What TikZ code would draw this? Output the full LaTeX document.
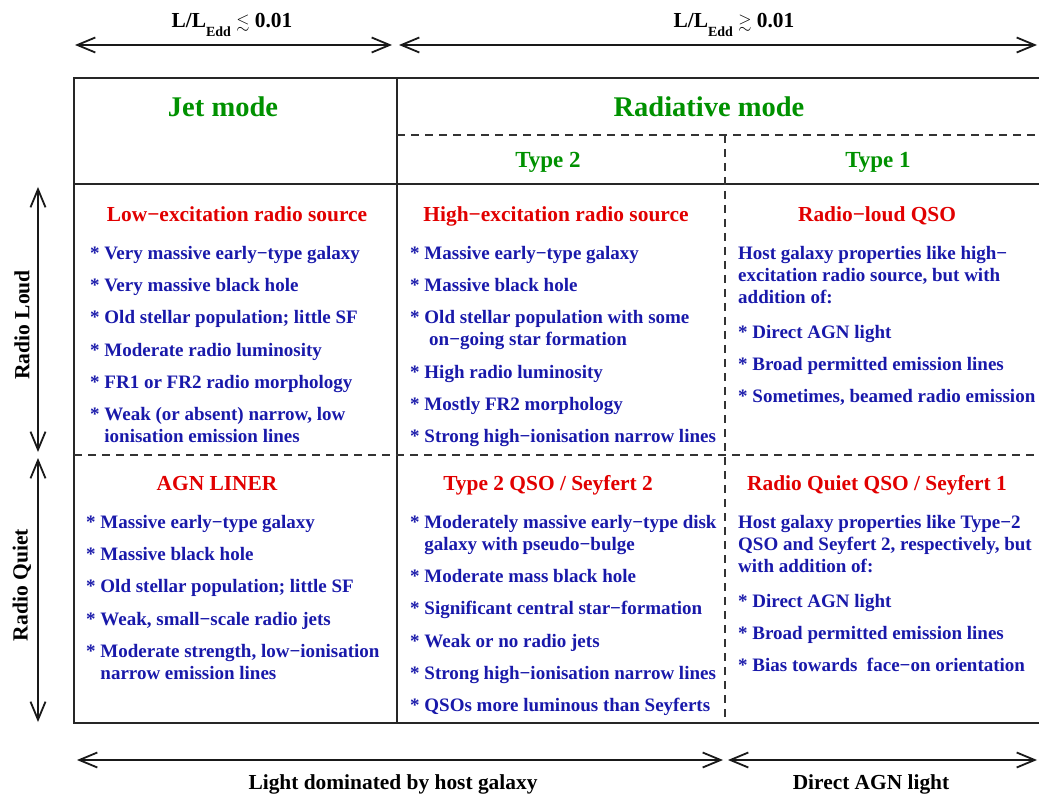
\documentclass[tikz,border=0pt]{standalone}
\usepackage{amssymb}
\usepackage{fontspec}
\setmainfont{Liberation Serif}
\usetikzlibrary{arrows.meta}

\definecolor{modegreen}{RGB}{0,145,0}
\definecolor{classred}{RGB}{225,0,0}
\definecolor{propblue}{RGB}{25,25,170}

\begin{document}
\begin{tikzpicture}[x=1pt, y=-1pt,
    rule/.style={line width=1.7pt, black!85},
    splitrule/.style={line width=1.7pt, black!80, dash pattern=on 8pt off 6pt},
    rangearrow/.style={line width=1.8pt, black!90, {Straight Barb[length=18pt,width=15pt]}-{Straight Barb[length=18pt,width=15pt]}},
    modehead/.style={anchor=base, inner sep=0pt, text=modegreen, font=\fontsize{28.5}{30}\selectfont\bfseries},
    typehead/.style={anchor=base, inner sep=0pt, text=modegreen, font=\fontsize{23}{25}\selectfont\bfseries},
    classhead/.style={anchor=base, inner sep=0pt, text=classred, font=\fontsize{21.4}{24}\selectfont\bfseries},
    proplist/.style={anchor=north west, inner sep=0pt, align=left, text=propblue, font=\fontsize{19}{22}\selectfont\bfseries},
    axislabel/.style={anchor=base, inner sep=0pt, font=\fontsize{21.4}{24}\selectfont\bfseries},
    sidelabel/.style={rotate=90, inner sep=0pt, font=\fontsize{21.6}{24}\selectfont\bfseries}]
    \useasboundingbox (0,0) rectangle (1039,794);

    % Eddington ratio ranges
    \coordinate (lowL) at (75,45);
    \coordinate (lowR) at (392,45);
    \coordinate (highL) at (399,45);
    \coordinate (highR) at (1037,45);
    \draw[rangearrow] (lowL) -- (lowR);
    \draw[rangearrow] (highL) -- (highR);
    \node[axislabel] (lowedd) at (232,28) {L/L\raisebox{-9pt}{\fontsize{14}{14}\selectfont Edd} {\fontsize{17}{20}\selectfont$\lesssim$} 0.01};
    \node[axislabel] (highedd) at (734,28) {L/L\raisebox{-9pt}{\fontsize{14}{14}\selectfont Edd} {\fontsize{17}{20}\selectfont$\gtrsim$} 0.01};

    % table
    \draw[rule] (1045,78) -- (74,78) -- (74,723) -- (1045,723);
    \draw[rule] (74,184) -- (1045,184);
    \draw[rule] (397,78) -- (397,723);
    \draw[splitrule] (397,135) -- (1045,135);
    \draw[splitrule] (74,455) -- (1045,455);
    \draw[splitrule] (725,135) -- (725,723);

    \node[modehead] (jet) at (223,117) {Jet mode};
    \node[modehead] (rad) at (709,117) {Radiative mode};
    \node[typehead] (type2) at (548,168) {Type 2};
    \node[typehead] (type1) at (878,168) {Type 1};

    % radio loud row
    \node[classhead] (lerg) at (237,222) {Low−excitation radio source};
    \node[classhead] (herg) at (556,222) {High−excitation radio source};
    \node[classhead] (rlqso) at (877,222) {Radio−loud QSO};
    \node[proplist] (lergtxt) at (90,243.6) {\strut* Very massive early−type galaxy\\[10.3pt]
        * Very massive black hole\\[10.3pt]
        * Old stellar population; little SF\\[10.3pt]
        * Moderate radio luminosity\\[10.3pt]
        * FR1 or FR2 radio morphology\\[10.3pt]
        * Weak (or absent) narrow, low\\
        \hphantom{* }ionisation emission lines};
    \node[proplist] (hergtxt) at (410,243.6) {\strut* Massive early−type galaxy\\[10.3pt]
        * Massive black hole\\[10.3pt]
        * Old stellar population with some\\
        \hphantom{* } on−going star formation\\[10.3pt]
        * High radio luminosity\\[10.3pt]
        * Mostly FR2 morphology\\[10.3pt]
        * Strong high−ionisation narrow lines};
    \node[proplist] (rlqsotxt) at (738,243.6) {\strut Host galaxy properties like high−\\
        excitation radio source, but with\\
        addition of:\\[13pt]
        * Direct AGN light\\[10.3pt]
        * Broad permitted emission lines\\[10.3pt]
        * Sometimes, beamed radio emission};

    % radio quiet row
    \node[classhead] (liner) at (217,490) {AGN LINER};
    \node[classhead] (sy2) at (548,490) {Type 2 QSO / Seyfert 2};
    \node[classhead] (sy1) at (877,490) {Radio Quiet QSO / Seyfert 1};
    \node[proplist] (linertxt) at (86,512.6) {\strut* Massive early−type galaxy\\[10.3pt]
        * Massive black hole\\[10.3pt]
        * Old stellar population; little SF\\[10.3pt]
        * Weak, small−scale radio jets\\[10.3pt]
        * Moderate strength, low−ionisation\\
        \hphantom{* }narrow emission lines};
    \node[proplist] (sy2txt) at (410,512.6) {\strut* Moderately massive early−type disk\\
        \hphantom{* }galaxy with pseudo−bulge\\[10.3pt]
        * Moderate mass black hole\\[10.3pt]
        * Significant central star−formation\\[10.3pt]
        * Weak or no radio jets\\[10.3pt]
        * Strong high−ionisation narrow lines\\[10.3pt]
        * QSOs more luminous than Seyferts};
    \node[proplist] (sy1txt) at (738,512.6) {\strut Host galaxy properties like Type−2\\
        QSO and Seyfert 2, respectively, but\\
        with addition of:\\[13pt]
        * Direct AGN light\\[10.3pt]
        * Broad permitted emission lines\\[10.3pt]
        * Bias towards\ \ face−on orientation};

    % radio loudness
    \coordinate (loudT) at (38,187);
    \coordinate (loudB) at (38,452);
    \coordinate (quietT) at (38,458);
    \coordinate (quietB) at (38,722);
    \draw[rangearrow] (loudT) -- (loudB);
    \draw[rangearrow] (quietT) -- (quietB);
    \node[sidelabel] (loud) at (22,325) {Radio Loud};
    \node[sidelabel] (quiet) at (22,585) {Radio Quiet};

    % light source
    \coordinate (hostL) at (77,760);
    \coordinate (hostR) at (723,760);
    \coordinate (agnL) at (728,760);
    \coordinate (agnR) at (1037,760);
    \draw[rangearrow] (hostL) -- (hostR);
    \draw[rangearrow] (agnL) -- (agnR);
    \node[axislabel] (hostlight) at (393,789) {Light dominated by host galaxy};
    \node[axislabel] (agnlight) at (871,789) {Direct AGN light};
\end{tikzpicture}
\end{document}
